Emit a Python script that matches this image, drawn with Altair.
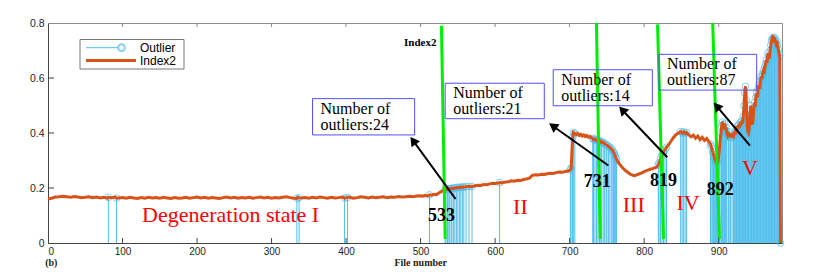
import math
import altair as alt
import pandas as pd

W, H = 734, 220
XMAX = 985
YMAX = 0.8
SX = W / XMAX
SY = H / YMAX

ORANGE = "#D95319"
BLUE = "#4DBEEE"
GREEN = "#00EE00"

# ---------------- Index2 curve ----------------
flat_x = list(range(0, 501, 5))
flat_y = [
    0.160, 0.163, 0.167, 0.168, 0.170, 0.168, 0.166, 0.169, 0.167, 0.165,
    0.166, 0.168, 0.165, 0.167, 0.164, 0.166, 0.163, 0.165, 0.167, 0.164,
    0.165, 0.163, 0.166, 0.164, 0.162, 0.165, 0.163, 0.166, 0.164, 0.165,
    0.163, 0.166, 0.164, 0.162, 0.165, 0.163, 0.164, 0.166, 0.163, 0.165,
    0.167, 0.164, 0.166, 0.163, 0.165, 0.164, 0.162, 0.165, 0.167, 0.164,
    0.166, 0.163, 0.165, 0.164, 0.166, 0.163, 0.165, 0.167, 0.164, 0.166,
    0.163, 0.165, 0.164, 0.166, 0.168, 0.165, 0.163, 0.166, 0.164, 0.165,
    0.163, 0.166, 0.164, 0.167, 0.165, 0.163, 0.166, 0.164, 0.165, 0.167,
    0.164, 0.166, 0.163, 0.165, 0.168, 0.166, 0.164, 0.167, 0.165, 0.166,
    0.168, 0.165, 0.167, 0.166, 0.169, 0.167, 0.168, 0.170, 0.168, 0.171,
    0.172,
]
extra_pts = [(81, 0.166), (92, 0.163), (334, 0.162), (337, 0.165), (398, 0.163), (402, 0.166)]

mid_pts = [
    (503, 0.170), (506, 0.173), (509, 0.171), (512, 0.175), (515, 0.174), (518, 0.177),
    (521, 0.176), (524, 0.181), (527, 0.186), (530, 0.190), (533, 0.193), (534, 0.195),
    (536, 0.194), (537, 0.197), (539, 0.196), (541, 0.199), (542, 0.198), (544, 0.200),
    (546, 0.199), (548, 0.202), (550, 0.201), (552, 0.203), (554, 0.202), (556, 0.204),
    (558, 0.203), (561, 0.205), (565, 0.206), (569, 0.205), (573, 0.208), (577, 0.210),
    (581, 0.209), (585, 0.213), (589, 0.212), (593, 0.215), (597, 0.217), (601, 0.216),
    (606, 0.220), (610, 0.219), (614, 0.222), (618, 0.223), (622, 0.226), (626, 0.225),
    (630, 0.228), (634, 0.227), (638, 0.231), (642, 0.233), (646, 0.236), (650, 0.246),
    (654, 0.248), (658, 0.247), (662, 0.250), (666, 0.249), (670, 0.252), (674, 0.254),
    (678, 0.253), (682, 0.256), (686, 0.258), (690, 0.257), (694, 0.260), (698, 0.262),
    (701, 0.266), (702, 0.272), (704, 0.385), (705, 0.402), (707, 0.398),
    (709, 0.394), (711, 0.398), (713, 0.391), (715, 0.395), (717, 0.389), (719, 0.393),
    (721, 0.387), (723, 0.391), (725, 0.385), (727, 0.388), (729, 0.383), (731, 0.380),
    (732, 0.376), (734, 0.378), (736, 0.372), (738, 0.375), (740, 0.369), (741, 0.371),
    (743, 0.365), (745, 0.367), (747, 0.361), (749, 0.358), (750, 0.356), (752, 0.352),
    (754, 0.348), (756, 0.342), (758, 0.336), (759, 0.330), (760, 0.324), (761, 0.318),
    (762, 0.310), (763, 0.304), (766, 0.290), (769, 0.280), (772, 0.271), (775, 0.263),
    (778, 0.257), (781, 0.251), (784, 0.247), (787, 0.245), (790, 0.248), (793, 0.251),
    (796, 0.254), (799, 0.258), (802, 0.262), (805, 0.265), (808, 0.268), (811, 0.270),
    (814, 0.273), (817, 0.276), (819, 0.284), (820, 0.292), (822, 0.306), (824, 0.320),
    (826, 0.332), (828, 0.340), (830, 0.348), (833, 0.358), (836, 0.370), (839, 0.382),
    (842, 0.392), (845, 0.398), (847, 0.402), (849, 0.405), (851, 0.400), (853, 0.404),
    (855, 0.398), (857, 0.402), (860, 0.393), (863, 0.386), (866, 0.392), (869, 0.381),
    (872, 0.389), (875, 0.376), (878, 0.384), (881, 0.373), (884, 0.380), (887, 0.368),
    (889, 0.360), (890, 0.352), (891, 0.342), (892, 0.332), (893, 0.322), (894, 0.312),
    (895, 0.303), (896, 0.296), (897, 0.292), (898, 0.290), (899, 0.298),
]

tail_x = list(range(900, 984))
tail_y = [
    0.310, 0.340, 0.375, 0.400, 0.425, 0.440, 0.430, 0.415, 0.435, 0.410,
    0.420, 0.400, 0.392, 0.405, 0.388, 0.398, 0.385, 0.395, 0.382, 0.392,
    0.388, 0.398, 0.405, 0.395, 0.412, 0.425, 0.415, 0.430, 0.420, 0.438,
    0.428, 0.445, 0.435, 0.460, 0.500, 0.545, 0.570, 0.520, 0.450, 0.405,
    0.400, 0.420, 0.460, 0.500, 0.470, 0.430, 0.445, 0.480, 0.510, 0.495,
    0.530, 0.545, 0.530, 0.560, 0.575, 0.560, 0.590, 0.605, 0.595, 0.615,
    0.625, 0.615, 0.640, 0.650, 0.665, 0.655, 0.690, 0.680, 0.670, 0.700,
    0.720, 0.735, 0.745, 0.740, 0.748, 0.745, 0.735, 0.725, 0.735, 0.720,
    0.705, 0.690, 0.680, 0.000,
]

# ---------------- Outlier file numbers ----------------
outliers_I = [81, 92, 334, 337, 398, 402, 512]
outliers_II = [533, 534, 536, 537, 539, 541, 542, 544, 546, 548, 550, 552, 554, 556,
               558, 561, 565, 569, 606, 701, 702, 704, 705, 707]
outliers_III = [731, 732, 734, 736, 738, 740, 741, 743, 745, 747, 749, 750, 752, 754,
                756, 758, 759, 760, 761, 762, 763]
outliers_IV = [819, 820, 822, 824, 826, 828, 830, 849, 851, 853, 855, 857, 889, 890]
outliers_V_skip = [902, 912, 915, 917, 919]
outliers_V = [i for i in range(892, 984) if i not in outliers_V_skip]

# ---------------- Annotations ----------------
green_top = [(528, 0.79), (736, 0.80), (818, 0.795), (892, 0.80)]
green_bottom = [(533, 0.015), (741, 0.015), (826, 0.015), (901, 0.015)]

box_x0 = [355, 533, 678, 820]
box_x1 = [492, 666, 811, 951]
box_top = [0.525, 0.581, 0.630, 0.686]
box_bot = [0.393, 0.452, 0.499, 0.556]
box_counts = [24, 21, 14, 87]

arrow_tail = [(547, 0.160), (752, 0.282), (831, 0.312), (942, 0.354)]
arrow_head = [(486, 0.387), (672, 0.436), (766, 0.497), (893, 0.512)]

cp_labels = ["533", "731", "819", "892"]
cp_x = [528, 737, 826, 902]
cp_y = [0.099, 0.221, 0.224, 0.193]

state_labels = ["Degeneration state I", "II", "III", "IV", "V"]
state_x = [245, 634, 786, 859, 942]
state_y = [0.101, 0.131, 0.139, 0.144, 0.272]

x_ticks = [0, 100, 200, 300, 400, 500, 600, 700, 800, 900]
y_ticks = [0, 0.2, 0.4, 0.6, 0.8]

# ---------------- Build tables ----------------
line_pts = list(zip(flat_x, flat_y)) + extra_pts + mid_pts + list(zip(tail_x, tail_y))
line_pts.sort()
line_df = pd.DataFrame(line_pts, columns=["x", "v"])
lookup = dict(line_pts)
all_out = outliers_I + outliers_II + outliers_III + outliers_IV + outliers_V
out_df = pd.DataFrame({"x": all_out, "v": [lookup[i] for i in all_out], "zero": 0.0})

green_df = pd.DataFrame({
    "x": [p[0] for p in green_bottom], "y": [p[1] for p in green_bottom],
    "x2": [p[0] for p in green_top], "y2": [p[1] for p in green_top],
})

box_df = pd.DataFrame({
    "x0": box_x0, "x1": box_x1, "top": box_top, "bot": box_bot,
    "label": [f"Number of\noutliers:{c}" for c in box_counts],
})

rows = []
for (tx, ty), (hx, hy) in zip(arrow_tail, arrow_head):
    dx = (hx - tx) * SX
    dy = -(hy - ty) * SY
    L = math.hypot(dx, dy)
    ux, uy = dx / L, dy / L
    ang = math.degrees(math.atan2(ux, -uy)) % 360
    back = 5.0
    cx = hx - back * ux / SX
    cy = hy + back * uy / SY
    rows.append({"tx": tx, "ty": ty, "cx": cx, "cy": cy, "ang": ang})
arrow_df = pd.DataFrame(rows)

cp_df = pd.DataFrame({"x": cp_x, "y": cp_y, "t": cp_labels})
st_df = pd.DataFrame({"x": state_x, "y": state_y, "t": state_labels})
xt_df = pd.DataFrame({"x": x_ticks[1:]})
yt_df = pd.DataFrame({"y": y_ticks[1:-1]})
one = pd.DataFrame({"a": [0]})

x_axis = alt.Axis(values=x_ticks, ticks=False, grid=False, title=None, domainColor="#444444",
                  labelFont="Liberation Sans", labelFontSize=10, labelColor="#262626",
                  labelPadding=3)
y_axis = alt.Axis(values=y_ticks, ticks=False, grid=False, title=None, domainColor="#444444",
                  labelFont="Liberation Sans", labelFontSize=10.5, labelColor="#262626",
                  labelPadding=4,
                  labelExpr="datum.value == 0 ? '0' : format(datum.value, '.1f')")
x_scale = alt.Scale(domain=[0, XMAX], nice=False, zero=False)
y_scale = alt.Scale(domain=[0, YMAX], nice=False, zero=False)


def X(field):
    return alt.X(field, scale=x_scale, axis=x_axis)


def Y(field):
    return alt.Y(field, scale=y_scale, axis=y_axis)


stems = alt.Chart(out_df).mark_rule(color=BLUE, strokeWidth=1).encode(
    x=X("x:Q"), y=Y("zero:Q"), y2="v:Q")
circles = alt.Chart(out_df).mark_point(shape="circle", filled=False, color=BLUE, size=45,
                                       strokeWidth=1).encode(x=X("x:Q"), y=Y("v:Q"))
line = alt.Chart(line_df).mark_line(color=ORANGE, strokeWidth=3).encode(x=X("x:Q"), y=Y("v:Q"))

greens = alt.Chart(green_df).mark_rule(color=GREEN, strokeWidth=3).encode(
    x=X("x:Q"), y=Y("y:Q"), x2="x2:Q", y2="y2:Q")

boxes = alt.Chart(box_df).mark_rect(fill=None, stroke="#5050FF", strokeWidth=1).encode(
    x=X("x0:Q"), x2="x1:Q", y=Y("top:Q"), y2="bot:Q")
box_text = alt.Chart(box_df).mark_text(align="left", baseline="top", dx=8, dy=2,
                                       lineBreak="\n", lineHeight=16,
                                       font="Liberation Serif", fontSize=16,
                                       color="black").encode(
    x=X("x0:Q"), y=Y("top:Q"), text="label:N")

arrow_lines = alt.Chart(arrow_df).mark_rule(color="black", strokeWidth=2).encode(
    x=X("tx:Q"), y=Y("ty:Q"), x2="cx:Q", y2="cy:Q")
arrow_heads = alt.Chart(arrow_df).mark_point(shape="triangle-up", filled=True, color="black",
                                             size=110, opacity=1).encode(
    x=X("cx:Q"), y=Y("cy:Q"), angle=alt.Angle("ang:Q", scale=None))

cp_text = alt.Chart(cp_df).mark_text(font="Liberation Serif", fontSize=18, fontWeight="bold",
                                     color="black").encode(x=X("x:Q"), y=Y("y:Q"), text="t:N")
st_text = alt.Chart(st_df).mark_text(font="Liberation Serif", fontSize=22,
                                     color="#FF0000").encode(x=X("x:Q"), y=Y("y:Q"), text="t:N")

index2_text = alt.Chart(one).mark_text(text="Index2", align="right", font="Liberation Serif",
                                       fontSize=11, fontWeight="bold", color="black").encode(
    x=alt.value(388.5), y=alt.value(19.5))

# inward ticks (MATLAB style)
bt = alt.Chart(xt_df).mark_rule(color="#444444", strokeWidth=1).encode(
    x=X("x:Q"), y=alt.value(H), y2=alt.value(H - 5))
tt = alt.Chart(xt_df).mark_rule(color="#888888", strokeWidth=1).encode(
    x=X("x:Q"), y=alt.value(0), y2=alt.value(4))
lt = alt.Chart(yt_df).mark_rule(color="#444444", strokeWidth=1).encode(
    y=Y("y:Q"), x=alt.value(0), x2=alt.value(6))

# legend
leg_box = alt.Chart(one).mark_rect(fill="white", stroke="#555555", strokeWidth=0.8).encode(
    x=alt.value(32), x2=alt.value(136), y=alt.value(16.5), y2=alt.value(46))
leg_l1 = alt.Chart(one).mark_rule(color=BLUE, strokeWidth=1).encode(
    x=alt.value(38), x2=alt.value(70), y=alt.value(24.7))
leg_c1 = alt.Chart(one).mark_point(shape="circle", filled=False, color=BLUE, size=45).encode(
    x=alt.value(73.5), y=alt.value(24.7))
leg_t1 = alt.Chart(one).mark_text(text="Outlier", align="left", baseline="middle",
                                  font="Liberation Sans", fontSize=12, color="black").encode(
    x=alt.value(92), y=alt.value(24.7))
leg_l2 = alt.Chart(one).mark_rule(color=ORANGE, strokeWidth=3).encode(
    x=alt.value(38), x2=alt.value(88), y=alt.value(37.6))
leg_t2 = alt.Chart(one).mark_text(text="Index2", align="left", baseline="middle",
                                  font="Liberation Sans", fontSize=12, color="black").encode(
    x=alt.value(92), y=alt.value(37.6))

xtitle = alt.Chart(one).mark_text(text="File number", font="Liberation Serif", fontSize=10,
                                  fontWeight="bold", color="#222222").encode(
    x=alt.value(372.7), y=alt.value(239.5))
btext = alt.Chart(one).mark_text(text="(b)", font="Liberation Serif", fontSize=10,
                                 fontWeight="bold", color="#222222").encode(
    x=alt.value(3.3), y=alt.value(239.5))

chart = alt.layer(
    stems, circles, line, greens, arrow_lines, arrow_heads, boxes, box_text,
    cp_text, st_text, index2_text, bt, tt, lt,
    leg_box, leg_l1, leg_c1, leg_t1, leg_l2, leg_t2, xtitle, btext,
).properties(
    width=W, height=H,
    autosize=alt.AutoSizeParams(type="none"),
    padding={"left": 40, "top": 15, "right": 27, "bottom": 27},
).configure_view(stroke="#8c8c8c", strokeWidth=1)

chart.save("out.html", embed_options={"renderer": "svg", "actions": False})
